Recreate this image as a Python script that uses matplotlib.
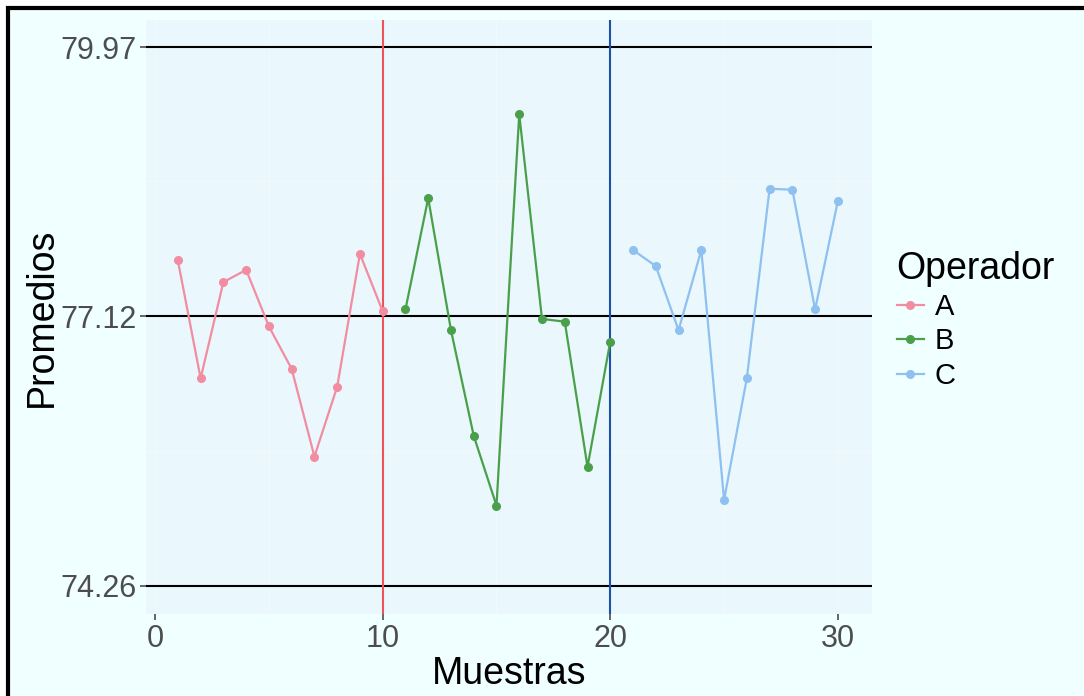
import matplotlib.pyplot as plt
from matplotlib.patches import Rectangle
from matplotlib.lines import Line2D

# promedios por muestra y operador
muestras_a = list(range(1, 11))
muestras_b = list(range(11, 21))
muestras_c = list(range(21, 31))
prom_a = [77.71, 76.46, 77.48, 77.61, 77.01, 76.56, 75.63, 76.37, 77.78, 77.17]
prom_b = [77.19, 78.37, 76.97, 75.85, 75.11, 79.26, 77.09, 77.06, 75.52, 76.85]
prom_c = [77.82, 77.65, 76.97, 77.82, 75.17, 76.46, 78.47, 78.46, 77.19, 78.34]
operadores = ['A', 'B', 'C']
colores = ['#F28DA1', '#4AA04A', '#8EC0F0']

lcs, lc, lci = 79.97, 77.12, 74.26
cortes = [10, 20]
cortes_col = ['#F0525A', '#1A4FAE']

plt.rcParams['font.family'] = ['Liberation Sans', 'DejaVu Sans']

fig = plt.figure(figsize=(10.84, 6.96), dpi=100)
fig.patch.set_facecolor('white')
fig.patches.append(Rectangle((8 / 1084, -0.01), 1.02, 1 - 8 / 696 + 0.01,
                             transform=fig.transFigure, facecolor='#F0FFFF',
                             edgecolor='black', linewidth=3, zorder=-1))

ax = fig.add_axes([146 / 1084, 1 - 614 / 696, 726 / 1084, 594 / 696])
ax.set_facecolor('#EAF7FD')

# rejilla tenue
for x in [0, 5, 10, 15, 20, 25, 30]:
    ax.axvline(x, color='white', lw=1, alpha=0.35, zorder=0)
for y in [74.26, 75.69, 77.12, 78.55, 79.97]:
    ax.axhline(y, color='white', lw=1, alpha=0.35, zorder=0)

for y in [lcs, lc, lci]:
    ax.axhline(y, color='black', lw=1.5, zorder=1)
for x, c in zip(cortes, cortes_col):
    ax.axvline(x, color=c, lw=1.5, zorder=1)

for xs, ys, c, op in zip([muestras_a, muestras_b, muestras_c],
                         [prom_a, prom_b, prom_c], colores, operadores):
    ax.plot(xs, ys, color=c, lw=1.6, marker='o', ms=5.5, label=op, zorder=2)

ax.set_xlim(-0.4, 31.5)
ax.set_ylim(73.96, 80.26)
ax.set_xticks([0, 10, 20, 30])
ax.set_yticks([lci, lc, lcs])
ax.set_yticklabels(['74.26', '77.12', '79.97'])
ax.tick_params(colors='#4D4D4D', labelsize=22, length=4, width=1.2, pad=3)
for s in ax.spines.values():
    s.set_visible(False)

ax.set_xlabel('Muestras', fontsize=27, labelpad=2)
ax.set_ylabel('Promedios', fontsize=27, labelpad=0)

handles = [Line2D([], [], color=c, lw=1.6, marker='o', ms=5.5) for c in colores]
leg = fig.legend(handles, operadores, title='Operador', loc='upper left',
                 bbox_to_anchor=(882 / 1084, 1 - 236 / 696), frameon=False,
                 fontsize=21, title_fontsize=27, handlelength=0.95,
                 handletextpad=0.35, labelspacing=0.22, borderpad=0)
leg._legend_box.align = 'left'

fig.savefig('out.png', dpi=100)
